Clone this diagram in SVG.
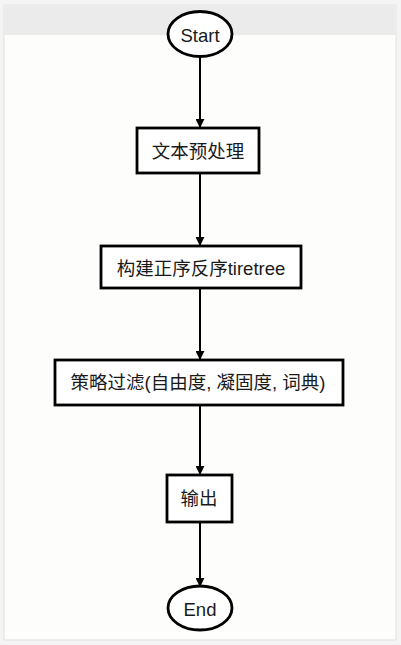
<svg xmlns="http://www.w3.org/2000/svg" width="401" height="645" viewBox="0 0 401 645">
  <style>
    .node-shape { fill: #ffffff; stroke: #000000; stroke-width: 2.8; }
    .label { font-family: "Liberation Sans", "Noto Sans CJK SC", sans-serif; font-size: 18.5px; fill: #1a1a1a; text-anchor: middle; dominant-baseline: central; }
    .edge { stroke: #000000; stroke-width: 2; fill: none; marker-end: url(#arrow); }
  </style>
  <defs>
    <marker id="arrow" viewBox="0 0 10 10" refX="9" refY="5" markerWidth="9" markerHeight="9" orient="auto" markerUnits="userSpaceOnUse">
      <path d="M0,0 L10,5 L0,10 z" fill="#000000"/>
    </marker>
  </defs>

  <!-- page backdrop and panel -->
  <rect x="0" y="0" width="401" height="645" fill="#f4f4f4"/>
  <rect x="4" y="5" width="392" height="635" fill="#fdfdfb" stroke="#e2e2e2" stroke-width="1"/>
  <rect x="4.5" y="5.5" width="391" height="29.5" fill="#ebebeb"/>

  <g id="connectors">
    <line class="edge" x1="200" y1="57" x2="200" y2="127"/>
    <line class="edge" x1="200" y1="174" x2="200" y2="245"/>
    <line class="edge" x1="200" y1="289" x2="200" y2="359"/>
    <line class="edge" x1="200" y1="406" x2="200" y2="474"/>
    <line class="edge" x1="200" y1="523" x2="200" y2="586"/>
  </g>

  <g id="start">
    <ellipse class="node-shape" cx="200" cy="34" rx="32" ry="22.5"/>
    <text class="label" x="200" y="35">Start</text>
  </g>

  <g id="preprocess">
    <rect class="node-shape" x="137" y="128" width="122" height="45"/>
    <text class="label" x="198" y="151">文本预处理</text>
  </g>

  <g id="build-tree">
    <rect class="node-shape" x="101" y="246" width="200" height="42"/>
    <text class="label" x="201" y="268">构建正序反序tiretree</text>
  </g>

  <g id="filter">
    <rect class="node-shape" x="55" y="360" width="288" height="45"/>
    <text class="label" x="198" y="382">策略过滤(自由度, 凝固度, 词典)</text>
  </g>

  <g id="output">
    <rect class="node-shape" x="167" y="475" width="65" height="47"/>
    <text class="label" x="199" y="498">输出</text>
  </g>

  <g id="end">
    <ellipse class="node-shape" cx="200" cy="608" rx="32" ry="22"/>
    <text class="label" x="200" y="609">End</text>
  </g>
</svg>
